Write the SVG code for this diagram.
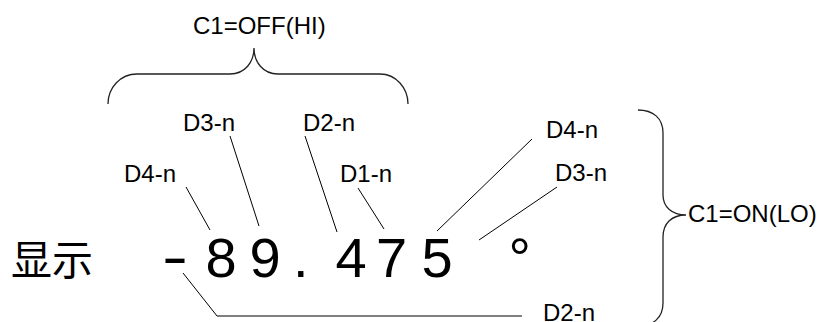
<svg xmlns="http://www.w3.org/2000/svg" width="832" height="322" viewBox="0 0 832 322">
<style>
.lbl{font-family:"Liberation Sans",Arial,sans-serif;font-size:24px;fill:#000}
.big{font-family:"Liberation Sans",Arial,sans-serif;font-size:56px;fill:#000}
.cjk{font-family:"Noto Sans CJK SC","Noto Sans CJK JP",sans-serif;font-size:41px;fill:#000}
.ln{stroke:#000;stroke-width:1;fill:none}
.br{stroke:#222;stroke-width:1.3;fill:none}
</style>
<rect width="832" height="322" fill="#fff"/>
<g id="display">
<text class="cjk" x="11" y="275">显示</text>
<text class="big" x="162" y="276" textLength="26" lengthAdjust="spacingAndGlyphs">-</text>
<text class="big" x="205.5 249.5 293 335.5 376 421.5" y="277">89.475</text>
<text class="big" x="508.5" y="277">°</text>
</g>
<g id="brace-hi">
<path class="br" d="M108,104 C108,88 120,74 137,74 L230,74 C245,74 254,62 254,48 C254,62 263,74 278,74 L380,74 C396,74 408,88 408,104"/>
<text class="lbl" x="193" y="34">C1=OFF(HI)</text>
</g>
<g id="brace-lo">
<path class="br" d="M638,110 C653,110 663,118 663,133 L663,195 C663,207 672,215 686,215 C672,215 663,223 663,237 L663,303 C663,318 653,326 638,326"/>
<text class="lbl" x="688" y="222">C1=ON(LO)</text>
</g>
<g id="labels">
<text class="lbl" x="183" y="131">D3-n</text>
<text class="lbl" x="303" y="131">D2-n</text>
<text class="lbl" x="124" y="182">D4-n</text>
<text class="lbl" x="340" y="182">D1-n</text>
<text class="lbl" x="546" y="138">D4-n</text>
<text class="lbl" x="555" y="181">D3-n</text>
<text class="lbl" x="543" y="321">D2-n</text>
</g>
<g id="connectors">
<line class="ln" x1="186" y1="187" x2="210" y2="230"/>
<line class="ln" x1="230" y1="136" x2="259" y2="226"/>
<line class="ln" x1="305" y1="136" x2="337" y2="232"/>
<line class="ln" x1="358" y1="188" x2="384" y2="229"/>
<line class="ln" x1="532" y1="139" x2="437" y2="231"/>
<line class="ln" x1="557" y1="187" x2="479" y2="240"/>
<polyline class="ln" points="183,273 217,316 522,316"/>
</g>
</svg>
